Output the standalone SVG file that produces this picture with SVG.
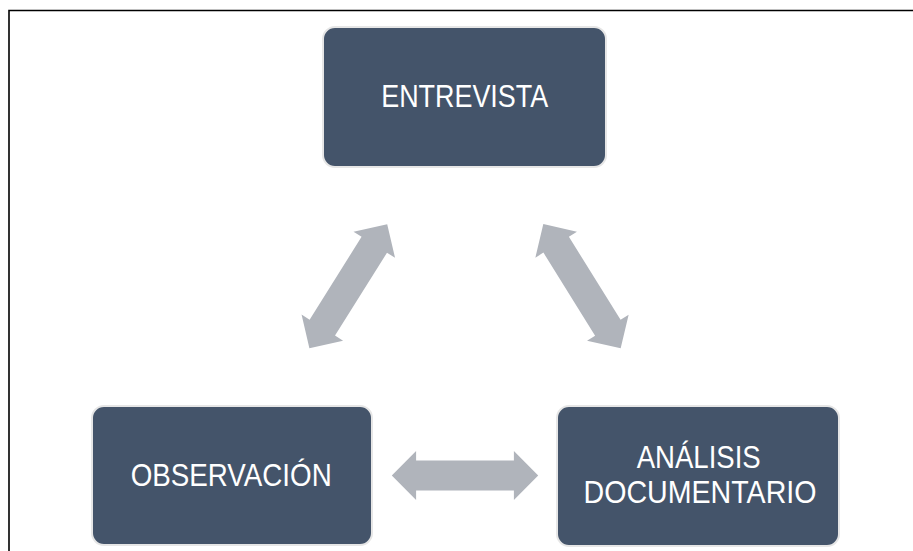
<svg xmlns="http://www.w3.org/2000/svg" xmlns:xlink="http://www.w3.org/1999/xlink" width="913" height="551" viewBox="0 0 913 551">
  <style>
    .node rect { fill: #44546a; stroke: #e6e6e6; stroke-width: 2; }
    .node text { font-family: "Liberation Sans", Arial, sans-serif; font-size: 30.5px; fill: #ffffff; text-anchor: middle; }
    .arrow { fill: #b0b4bb; }
    .frame { stroke: #000000; stroke-width: 1.6; fill: none; }
  </style>
  <defs>
    <path id="dbl" d="M -73.2 0 L -48.9 -24.5 L -48.9 -15 L 48.9 -15 L 48.9 -24.5 L 73.2 0 L 48.9 24.5 L 48.9 15 L -48.9 15 L -48.9 24.5 Z"/>
  </defs>
  <rect x="0" y="0" width="913" height="551" fill="#ffffff"/>
  <polyline class="frame" points="9,551 9,10.5 913,10.5"/>
  <g id="connectors">
    <use xlink:href="#dbl" class="arrow" transform="translate(348.3,286.2) rotate(-57.9)"/>
    <use xlink:href="#dbl" class="arrow" transform="translate(582,286.2) rotate(58.1)"/>
    <use xlink:href="#dbl" class="arrow" transform="translate(465,475.5)"/>
  </g>
  <g id="entrevista" class="node">
    <rect x="323" y="27" width="283" height="140" rx="12"/>
    <text x="464.7" y="107.3" textLength="167" lengthAdjust="spacingAndGlyphs">ENTREVISTA</text>
  </g>
  <g id="observacion" class="node">
    <rect x="92" y="406" width="280" height="139" rx="12"/>
    <text x="231.2" y="485.7" textLength="201" lengthAdjust="spacingAndGlyphs">OBSERVACIÓN</text>
  </g>
  <g id="analisis" class="node">
    <rect x="557" y="406" width="282" height="140" rx="12"/>
    <text x="698.7" y="468.3" textLength="124" lengthAdjust="spacingAndGlyphs">ANÁLISIS</text>
    <text x="700" y="503.3" textLength="233" lengthAdjust="spacingAndGlyphs">DOCUMENTARIO</text>
  </g>
</svg>
